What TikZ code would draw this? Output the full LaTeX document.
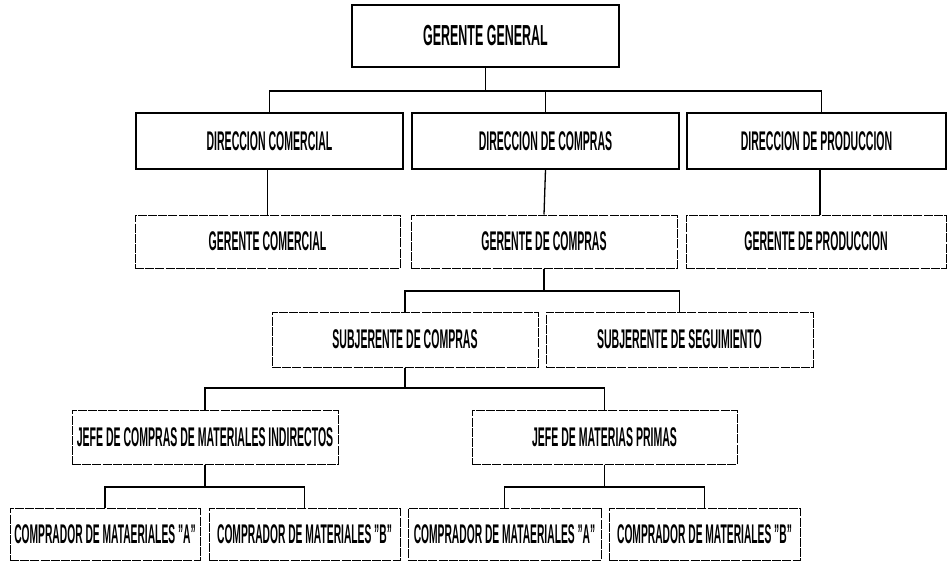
\documentclass[tikz,border=0pt]{standalone}
\usepackage{graphicx}
\usepackage{fontspec}
\setmainfont{Liberation Sans}
% tall, tightly condensed bold lettering
\newcommand\orgtext[3][27]{\scalebox{#2}[1]{\fontsize{#1}{#1}\selectfont\bfseries #3}}
\newcommand\qt{\symbol{34}}
\begin{document}
\begin{tikzpicture}[x=1pt,y=-1pt,
  unit/.style={draw=black, line width=1.2pt, rectangle, inner sep=0pt},
  subunit/.style={unit, line width=1pt, dash pattern=on 9pt off 1.2pt},
  link/.style={draw=black, line width=1.3pt}]
\useasboundingbox (0,0) rectangle (949,562);

% first level
\node[unit, minimum width=267pt, minimum height=62pt] (gg) at (485.5,36) {\orgtext[29]{0.43}{GERENTE GENERAL}};

% directions
\node[unit, minimum width=267pt, minimum height=56pt] (dc)  at (269.5,141) {\orgtext{0.39}{DIRECCION COMERCIAL}};
\node[unit, minimum width=267pt, minimum height=56pt] (dco) at (545.5,141) {\orgtext{0.39}{DIRECCION DE COMPRAS}};
\node[unit, minimum width=259pt, minimum height=56pt] (dp)  at (816.5,141) {\orgtext{0.39}{DIRECCION DE PRODUCCION}};

% managers
\node[subunit, minimum width=265pt, minimum height=53pt] (gc)  at (267.5,241.5) {\orgtext{0.39}{GERENTE COMERCIAL}};
\node[subunit, minimum width=266pt, minimum height=53pt] (gco) at (544,241.5) {\orgtext{0.39}{GERENTE DE COMPRAS}};
\node[subunit, minimum width=260pt, minimum height=53pt] (gp)  at (816,241.5) {\orgtext{0.39}{GERENTE DE PRODUCCION}};

% deputy managers
\node[subunit, minimum width=266pt, minimum height=55pt] (sc) at (405,339.5) {\orgtext{0.39}{SUBJERENTE DE COMPRAS}};
\node[subunit, minimum width=267pt, minimum height=55pt] (ss) at (679.5,339.5) {\orgtext{0.39}{SUBJERENTE DE SEGUIMIENTO}};

% heads
\node[subunit, minimum width=266pt, minimum height=54pt] (ji) at (205,437) {\orgtext{0.39}{JEFE DE COMPRAS DE MATERIALES INDIRECTOS}};
\node[subunit, minimum width=265pt, minimum height=54pt] (jm) at (604.5,437) {\orgtext{0.39}{JEFE DE MATERIAS PRIMAS}};

% buyers
\node[subunit, minimum width=190pt, minimum height=52pt] (ca1) at (105,534) {\orgtext{0.38}{COMPRADOR DE MATAERIALES \qt A\qt}};
\node[subunit, minimum width=191pt, minimum height=52pt] (cb1) at (304.5,534) {\orgtext{0.38}{COMPRADOR DE MATERIALES \qt B\qt}};
\node[subunit, minimum width=193pt, minimum height=52pt] (ca2) at (504.5,534) {\orgtext{0.38}{COMPRADOR DE MATAERIALES \qt A\qt}};
\node[subunit, minimum width=191pt, minimum height=52pt] (cb2) at (704.5,534) {\orgtext{0.38}{COMPRADOR DE MATERIALES \qt B\qt}};

% bus levels
\coordinate (bus1) at (0,91);
\coordinate (bus2) at (0,291);
\coordinate (bus3) at (0,388);
\coordinate (bus4) at (0,487);
\coordinate (dpin) at ([xshift=5pt]dp.north);

% connectors
\draw[link] (gg.south) -- (gg.south |- bus1);
\draw[link] (dc.north) |- (dpin |- bus1) -- (dpin);
\draw[link] (dco.north) -- (dco.north |- bus1);

\draw[link] (gc.north |- dc.south) -- (gc.north);
\draw[link] (dco.south) -- (gco.north);
\draw[link] ([xshift=4pt]gp.north |- dp.south) -- ([xshift=4pt]gp.north);

\draw[link] (gco.south) -- (gco.south |- bus2);
\draw[link] (sc.north) |- (ss.north |- bus2) -- (ss.north);

\draw[link] (sc.south) -- (sc.south |- bus3);
\draw[link] (ji.north) |- (jm.north |- bus3) -- (jm.north);

\draw[link] (ji.south) -- (ji.south |- bus4);
\draw[link] (ca1.north) |- (cb1.north |- bus4) -- (cb1.north);

\draw[link] (jm.south) -- (jm.south |- bus4);
\draw[link] (ca2.north) |- (cb2.north |- bus4) -- (cb2.north);
\end{tikzpicture}
\end{document}
